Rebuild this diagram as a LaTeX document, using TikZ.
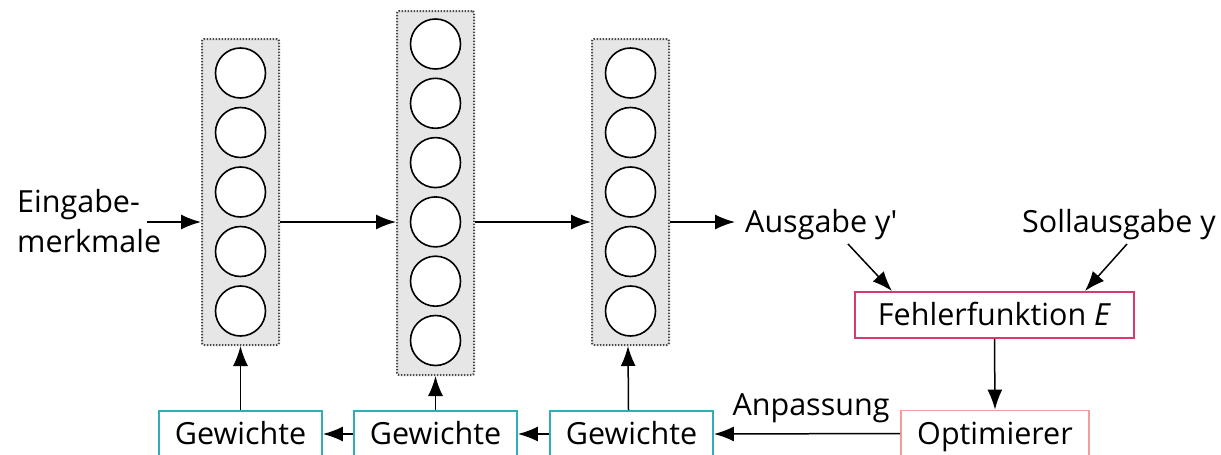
\documentclass[tikz,border=0pt]{standalone}
\usepackage{fontspec}
\setmainfont{Open Sans}
\usetikzlibrary{arrows.meta}
\definecolor{wcol}{HTML}{2EAFB7}
\definecolor{ecol}{HTML}{D8396E}
\definecolor{ocol}{HTML}{F29C9C}
\definecolor{layerfill}{HTML}{E6E6E6}
\definecolor{layeredge}{HTML}{4A4A4A}

\begin{document}
\begin{tikzpicture}[x=1pt,y=-1pt,
  every node/.style={font=\fontsize{30.5}{40}\selectfont},
  arr/.style={-{Latex[length=20pt,width=15pt]}, line width=1.5pt},
  layerbox/.style={draw=layeredge, fill=layerfill, line width=2pt,
    dash pattern=on 1.5pt off 1.5pt, rounded corners=2pt,
    minimum width=77pt, inner sep=0pt},
  neuron/.style={circle, draw, fill=white, line width=1.6pt,
    minimum size=50pt, inner sep=0pt},
  labelbox/.style={line width=1.9pt, minimum height=46pt,
    text height=21pt, text depth=0pt, inner sep=0pt},
  wbox/.style={labelbox, draw=wcol, minimum width=163pt},
  plain/.style={inner sep=0pt}
]
\useasboundingbox (0,0) rectangle (1221,455);

% layers
\node[layerbox, minimum height=306pt] (l1) at (240.5,192) {};
\node[layerbox, minimum height=364pt] (l2) at (435.5,193) {};
\node[layerbox, minimum height=306pt] (l3) at (630.5,192) {};
\foreach \i in {0,...,4} \node[neuron] (a\i) at (240.5,73+59.5*\i) {};
\foreach \i in {0,...,5} \node[neuron] (b\i) at (435.5,44+59.3*\i) {};
\foreach \i in {0,...,4} \node[neuron] (c\i) at (630.5,73+59.5*\i) {};

% texts
\node[plain, anchor=base west] (in1) at (17,212) {Eingabe-};
\node[plain, anchor=base west] (in2) at (17,252) {merkmale};
\node[plain, anchor=base west] (aus) at (745,232) {Ausgabe y\textquotesingle};
\node[plain, anchor=base west] (soll) at (1022,232) {Sollausgabe y};
\node[plain, anchor=base] (anp) at (811,415) {Anpassung};

% boxes
\node[labelbox, draw=ecol, minimum width=279pt] (fe) at (994.5,315) {Fehlerfunktion \textit{E}};
\node[labelbox, draw=ocol, minimum width=188pt] (opt) at (995,433.5) {Optimierer};
\node[wbox] (g1) at (240.5,434) {Gewichte};
\node[wbox] (g2) at (435.5,434) {Gewichte};
\node[wbox] (g3) at (631.5,434) {Gewichte};

% helper coordinates
\coordinate (fy) at (0,222);
\coordinate (inA) at (147,222);
\coordinate (outA) at (735,222);
\coordinate (ausS) at (848,244);
\coordinate (sollS) at (1127,244);

% forward path
\draw[arr] (inA) -- (l1.west |- fy);
\draw[arr] (l1.east |- fy) -- (l2.west |- fy);
\draw[arr] (l2.east |- fy) -- (l3.west |- fy);
\draw[arr] (l3.east |- fy) -- (outA);

% error and optimisation
\draw[arr] (ausS) -- ([xshift=-102.5pt]fe.north);
\draw[arr] (sollS) -- ([xshift=90.5pt]fe.north);
\draw[arr] (fe.south) -- (opt.north);
\draw[arr] (opt.west) -- (g3.east);
\draw[arr] (g3.west) -- (g2.east);
\draw[arr] (g2.west) -- (g1.east);

% weights into layers
\draw[arr] (g1.north) -- (l1.south);
\draw[arr] (g2.north) -- (l2.south);
\draw[arr] ([xshift=-3pt]g3.north) -- ([xshift=-2.5pt]l3.south);
\end{tikzpicture}
\end{document}
